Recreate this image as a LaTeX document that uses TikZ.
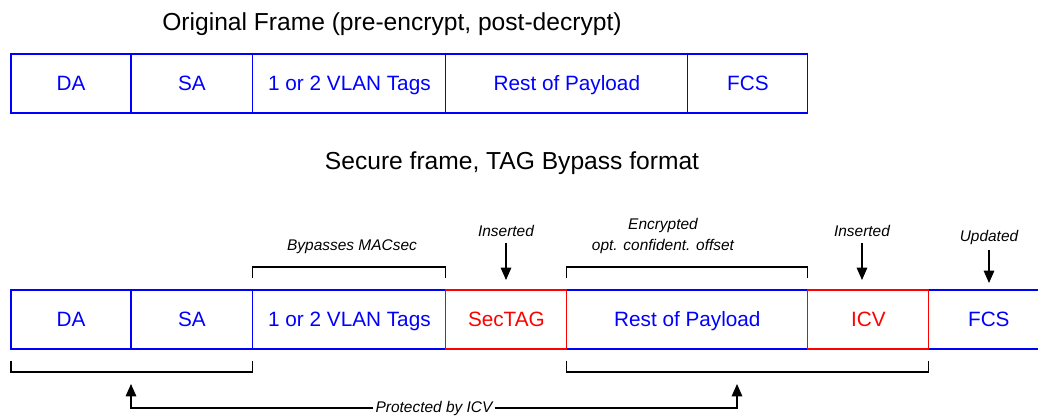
\documentclass[tikz,border=0pt]{standalone}
\usepackage{fontspec}
\setmainfont{Liberation Sans}
\usetikzlibrary{positioning,arrows.meta}

\tikzset{
  field/.style={draw=blue, text=blue, line width=0.6pt, minimum height=1.18cm,
    inner sep=0pt, outer sep=0pt, text height=1.6ex, text depth=0.1ex,
    font=\fontsize{11.8}{14}\selectfont},
  secfield/.style={field, draw=red, text=red},
  note/.style={font=\fontsize{8.8}{12.5}\selectfont\itshape, align=center},
  title/.style={font=\fontsize{14}{17}\selectfont},
  brk/.style={line width=0.6pt},
  arr/.style={line width=0.6pt, -{Triangle[length=7pt,width=6pt]}},
}

\begin{document}
\begin{tikzpicture}[x=0.02cm,y=-0.02cm]
    \useasboundingbox (0,0) rectangle (1038,416);

    % original frame
    \node[title] (otitle) at (392,24) {Original Frame (pre-encrypt, post-decrypt)};
    \node[field, minimum width=2.4cm, anchor=north west] (oDA) at (11,54) {DA};
    \node[field, minimum width=2.44cm, right=0pt of oDA] (oSA) {SA};
    \node[field, minimum width=3.86cm, right=0pt of oSA] (oVLAN) {1 or 2 VLAN Tags};
    \node[field, minimum width=4.84cm, right=0pt of oVLAN] (oRest) {Rest of Payload};
    \node[field, minimum width=2.4cm, right=0pt of oRest] (oFCS) {FCS};

    % secure frame
    \node[title] (stitle) at (512,163) {Secure frame, TAG Bypass format};
    \node[field, minimum width=2.4cm, anchor=north west] (bDA) at (11,290) {DA};
    \node[field, minimum width=2.44cm, right=0pt of bDA] (bSA) {SA};
    \node[field, minimum width=3.86cm, right=0pt of bSA] (bVLAN) {1 or 2 VLAN Tags};
    \node[secfield, minimum width=2.42cm, right=0pt of bVLAN] (bSec) {SecTAG};
    \node[field, minimum width=4.82cm, right=0pt of bSec] (bRest) {Rest of Payload};
    \node[secfield, minimum width=2.42cm, right=0pt of bRest] (bICV) {ICV};
    \node[field, minimum width=2.4cm, right=0pt of bICV] (bFCS) {FCS};
    % red borders on top again
    \node[secfield, minimum width=2.42cm, fill=none] at (bSec) {};
    \node[secfield, minimum width=2.42cm, fill=none] at (bICV) {};

    % notes above
    \node[note] (byp) at (352,247) {Bypasses MACsec};
    \node[note] (enc) at (663,236) {Encrypted\\opt. confident. offset};
    \node[note] (ins1) at (506,231) {Inserted};
    \node[note] (ins2) at (862,231) {Inserted};
    \node[note] (upd) at (989,237) {Updated};

    \draw[brk] ([yshift=0.24cm]bVLAN.north west) -- ++(0,-11) -| ([yshift=0.24cm]bVLAN.north east);
    \draw[brk] ([yshift=0.24cm]bRest.north west) -- ++(0,-11) -| ([yshift=0.24cm]bRest.north east);
    \draw[arr, shorten >=0.2cm] (ins1) -- (ins1 |- bSec.north);
    \draw[arr, shorten >=0.2cm] (ins2) -- (ins2 |- bICV.north);
    \draw[arr, shorten >=0.14cm] (upd) -- (upd |- bFCS.north);

    % protected part
    \draw[brk] ([yshift=-0.24cm]bDA.south west) -- ++(0,11) -| ([yshift=-0.24cm]bSA.south east);
    \draw[brk] ([yshift=-0.24cm]bRest.south west) -- ++(0,11) -| ([yshift=-0.24cm]bICV.south east);
    \node[note, inner sep=1pt] (prot) at (434,408) {Protected by ICV};
    \coordinate (pL) at (131,384);
    \coordinate (pR) at (737,384);
    \draw[arr] (prot.west) -| (pL);
    \draw[arr] (prot.east) -| (pR);
\end{tikzpicture}
\end{document}
